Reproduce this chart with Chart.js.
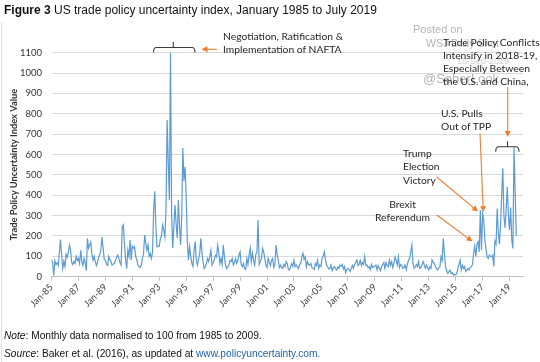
<!DOCTYPE html>
<html><head><meta charset="utf-8">
<script src="https://cdn.jsdelivr.net/npm/chart.js@4.4.1/dist/chart.umd.min.js"></script>
<style>
html,body{margin:0;padding:0;background:#fff}
body{width:540px;height:362px;overflow:hidden;position:relative;font-family:"Liberation Sans",Arial,sans-serif}
#c{position:absolute;left:0;top:0}
.t{position:absolute;white-space:nowrap;line-height:13px}
.ann{font-family:Lato,sans-serif;font-size:10.3px;color:#262626}
.wm{font-family:"Liberation Sans",Arial,sans-serif;color:#b5b5b5}
#border{position:absolute;left:1px;top:22px;width:1px;height:340px;background:#e2e2e2}
</style></head>
<body>
<div id="border"></div>
<canvas id="c" width="540" height="362"></canvas>
<div class="t" style="left:4px;top:4px;font-size:12px;color:#111"><b>Figure 3</b> US trade policy uncertainty index, January 1985 to July 2019</div>
<div class="t wm" style="left:413px;top:23px;font-size:11px">Posted on</div>
<div class="t wm" style="left:426px;top:37px;font-size:10.5px">WSJ Daily Shot</div>
<div class="t wm" style="left:457px;top:55px;font-size:9px;color:#d0d0d0">18-Sep-2019</div>
<div class="t wm" style="left:423px;top:72px;font-size:13px">@SoberLook</div>
<div class="t ann" style="left:223px;top:30px">Negotiation, Ratification &amp;</div>
<div class="t ann" style="left:223px;top:43px">Implementation of NAFTA</div>
<div class="t ann" style="left:443px;top:36px">Trade Policy Conflicts<br>Intensify in 2018-19,<br>Especially Between<br>the U.S. and China,</div>
<div class="t ann" style="left:441px;top:107px;line-height:13.4px">U.S. Pulls<br>Out of TPP</div>
<div class="t ann" style="left:403px;top:147px;line-height:13.4px">Trump<br>Election<br>Victory</div>
<div class="t ann" style="left:375px;top:198px;line-height:12.5px;text-align:center">Brexit<br>Referendum</div>
<div class="t" style="left:4px;top:329px;font-size:10.2px;color:#111"><i>Note</i>: Monthly data normalised to 100 from 1985 to 2009.</div>
<div class="t" style="left:4px;top:347px;font-size:10.2px;color:#111"><i>Source</i>: Baker et al. (2016), as updated at <span style="color:#2163a6">www.policyuncertainty.com.</span></div>
<script>
// Monthly US trade policy uncertainty index, Jan 1985 - Jul 2019
const tpu1985_1989 = [
  85, 72, 5, 78, 60, 68, 55, 120, 182, 110, 40, 75,
  50, 110, 95, 120, 155, 130, 70, 60, 75, 65, 100, 80,
  90, 65, 130, 75, 55, 90, 70, 30, 188, 140, 155, 170,
  110, 80, 100, 75, 55, 70, 95, 110, 130, 195, 140, 85,
  80, 60, 55, 100, 85, 75, 57, 62, 65, 80, 95, 106];
const tpu1990_1994 = [
  90, 70, 57, 245, 255, 160, 82, 40, 130, 100, 180, 82,
  150, 140, 147, 100, 82, 57, 50, 45, 57, 90, 115, 205,
  165, 130, 155, 100, 115, 90, 120, 330, 420, 240, 147, 150,
  150, 188, 200, 254, 230, 196, 330, 770, 560, 377, 1100, 300,
  141, 250, 352, 260, 190, 377, 250, 156, 300, 632, 470, 540];
const tpu1995_1999 = [
  393, 172, 82, 147, 100, 65, 50, 130, 172, 80, 57, 90,
  110, 188, 120, 74, 40, 49, 65, 90, 74, 100, 130, 57,
  70, 82, 106, 98, 155, 120, 65, 90, 60, 155, 100, 57,
  40, 48, 57, 80, 74, 90, 57, 70, 90, 65, 80, 106,
  122, 60, 50, 65, 40, 35, 90, 60, 106, 140, 74, 115];
const tpu2000_2004 = [
  80, 57, 110, 120, 278, 60, 74, 90, 139, 122, 90, 57,
  45, 90, 70, 55, 80, 90, 45, 60, 155, 110, 82, 45,
  57, 45, 41, 60, 49, 74, 65, 35, 33, 49, 65, 50,
  82, 50, 57, 49, 40, 60, 65, 98, 115, 85, 98, 49,
  74, 60, 57, 65, 45, 41, 35, 65, 55, 82, 41, 57];
const tpu2005_2009 = [
  50, 90, 100, 123, 85, 57, 49, 38, 41, 57, 30, 41,
  49, 40, 33, 49, 41, 57, 52, 60, 38, 50, 20, 35,
  41, 35, 25, 40, 55, 41, 60, 70, 82, 55, 60, 80,
  55, 70, 60, 98, 55, 57, 45, 49, 35, 60, 45, 49,
  52, 57, 33, 55, 41, 30, 49, 60, 70, 40, 70, 55];
const tpu2010_2014 = [
  49, 82, 57, 74, 45, 65, 98, 80, 57, 98, 45, 60,
  55, 40, 45, 57, 35, 60, 82, 90, 120, 155, 65, 41,
  49, 60, 49, 74, 41, 45, 57, 74, 60, 41, 57, 45,
  33, 49, 41, 82, 70, 65, 49, 40, 33, 45, 49, 98,
  80, 188, 115, 49, 30, 16, 25, 33, 16, 20, 8, 10];
const tpu2015_2019 = [
  10, 16, 41, 60, 82, 33, 57, 41, 50, 25, 33, 41,
  33, 45, 49, 60, 115, 150, 98, 160, 172, 122, 327, 130,
  310, 280, 180, 139, 98, 90, 106, 100, 98, 106, 50, 175,
  160, 335, 220, 160, 250, 400, 532, 300, 240, 330, 440, 300,
  230, 340, 180, 139, 635, 420, 200];
// x-axis tick labels (every 24 months) and their month positions
const tickLabels = ['Jan-85','Jan-87','Jan-89','Jan-91','Jan-93','Jan-95','Jan-97','Jan-99','Jan-01','Jan-03','Jan-05','Jan-07','Jan-09','Jan-11','Jan-13','Jan-15','Jan-17','Jan-19'];
const tickMonths = [0,24,48,72,96,120,144,168,192,216,240,264,288,312,336,360,384,408];
const yTicks = [0,100,200,300,400,500,600,700,800,900,1000,1100];

const values = [].concat(tpu1985_1989, tpu1990_1994, tpu1995_1999, tpu2000_2004, tpu2005_2009, tpu2010_2014, tpu2015_2019);
const points = values.map((v, i) => ({x: i, y: v}));

const ORANGE = '#ed7d31';
function arrow(ctx, x1, y1, x2, y2) {
  ctx.save();
  ctx.strokeStyle = ORANGE; ctx.fillStyle = ORANGE; ctx.lineWidth = 1.1;
  const a = Math.atan2(y2 - y1, x2 - x1), h = 6;
  ctx.beginPath(); ctx.moveTo(x1, y1); ctx.lineTo(x2 - Math.cos(a) * h * 0.8, y2 - Math.sin(a) * h * 0.8); ctx.stroke();
  ctx.beginPath(); ctx.moveTo(x2, y2);
  ctx.lineTo(x2 - h * Math.cos(a) + 3 * Math.sin(a), y2 - h * Math.sin(a) - 3 * Math.cos(a));
  ctx.lineTo(x2 - h * Math.cos(a) - 3 * Math.sin(a), y2 - h * Math.sin(a) + 3 * Math.cos(a));
  ctx.closePath(); ctx.fill();
  ctx.restore();
}
function brace(ctx, xl, xr, y, xc) {
  ctx.save();
  ctx.strokeStyle = '#3a3a3a'; ctx.lineWidth = 1.1;
  ctx.beginPath();
  ctx.moveTo(xl, y + 5); ctx.quadraticCurveTo(xl, y, xl + 3, y);
  ctx.lineTo(xr - 3, y); ctx.quadraticCurveTo(xr, y, xr, y + 5);
  ctx.moveTo(xc, y); ctx.lineTo(xc, y - 5.5);
  ctx.stroke();
  ctx.restore();
}
const annPlugin = {
  id: 'ann',
  afterDatasetsDraw(chart) {
    const ctx = chart.ctx;
    brace(ctx, 153.5, 195, 47.5, 173.3);
    arrow(ctx, 217, 49.3, 201.5, 49.3);
    brace(ctx, 495.7, 519, 146.7, 507.5);
    arrow(ctx, 507.7, 87, 507.7, 137);
    arrow(ctx, 480, 133.5, 483.3, 212);
    arrow(ctx, 436.7, 177, 478, 211.5);
    arrow(ctx, 436.7, 215, 472.5, 241.5);
  }
};

new Chart(document.getElementById('c'), {
  type: 'line',
  data: { datasets: [{ data: points, borderColor: '#5b9bd5', borderWidth: 1.2, pointRadius: 0, tension: 0, fill: false }] },
  options: {
    responsive: false, animation: false, devicePixelRatio: 1,
    layout: { padding: { left: 0, top: 52.7, right: 17, bottom: 0 } },
    plugins: { legend: { display: false }, tooltip: { enabled: false } },
    scales: {
      x: {
        type: 'linear', min: 0, max: 420,
        afterBuildTicks: s => { s.ticks = tickMonths.map(v => ({ value: v })); },
        afterFit: s => { s.height = 362 - 276.7; },
        ticks: { autoSkip: false, maxRotation: 45, minRotation: 45, padding: 1, color: '#404040',
                 font: { family: 'Lato', size: 9.3 }, callback: (v, i) => tickLabels[i] },
        grid: { drawOnChartArea: false, drawTicks: true, tickLength: 4, color: '#bfbfbf' },
        border: { display: true, color: '#bfbfbf', width: 1 }
      },
      y: {
        min: 0, max: 1100,
        afterBuildTicks: s => { s.ticks = yTicks.map(v => ({ value: v })); },
        afterFit: s => { s.width = 51.5; },
        ticks: { padding: 9.5, color: '#333', font: { family: 'Lato', size: 9.5 }, callback: v => String(v) },
        grid: { color: '#d9d9d9', drawTicks: false, lineWidth: 1 },
        border: { display: false },
        title: { display: true, text: 'Trade Policy Uncertainty Index Value', color: '#333',
                 font: { family: 'Lato', size: 9.3, weight: 'bold' }, padding: { top: 8, bottom: 0 } }
      }
    }
  },
  plugins: [annPlugin]
});
</script>
</body></html>
